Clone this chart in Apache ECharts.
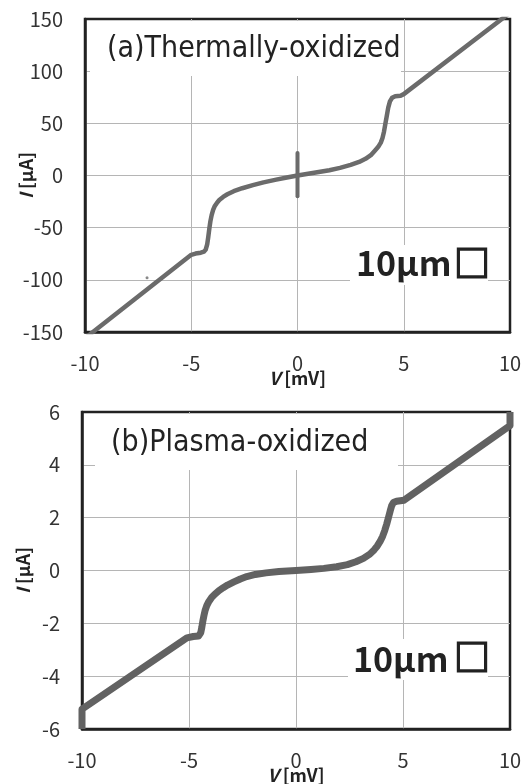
<!DOCTYPE html>
<html>
<head>
<meta charset="utf-8">
<script src="https://cdn.jsdelivr.net/npm/echarts@6/dist/echarts.min.js"></script>
<style>
html,body{margin:0;padding:0;background:#fff;}
#chart{width:529px;height:784px;}
</style>
</head>
<body>
<div id="chart"></div>
<script>
// ---------- Data ----------
// Panel (a): Thermally-oxidized, V [mV] vs I [μA]
const curveA = [
  [-10,-156],[-5.0,-76],[-4.8,-74.8],[-4.55,-74],[-4.4,-73],[-4.32,-71],[-4.25,-66],
  [-4.2,-59],[-4.15,-51],[-4.1,-44],[-4.04,-38],[-3.97,-33],[-3.9,-29.5],[-3.8,-26.5],
  [-3.68,-23.5],[-3.5,-20.5],[-3.3,-18],[-3.0,-15],[-2.6,-12.2],[-2.1,-9.3],[-1.6,-6.6],
  [-1.0,-4],[-0.5,-1.9],[0,0],[0.5,1.6],[1.0,3.3],[1.5,5.1],[2.0,7.3],[2.5,10.2],
  [2.9,13],[3.2,16],[3.45,19.5],[3.65,24],[3.8,27.5],[3.92,31.5],[4.0,36],[4.07,42],
  [4.13,49],[4.2,57],[4.27,65],[4.35,71],[4.45,74.5],[4.6,76],[4.85,76.5],[5.0,78],[10,156]
];
const spikeA = [[0,-20],[0,21.5]];
const strayA = [[-7.08,-98]];
// Panel (b): Plasma-oxidized
const curveB = [
  [-10,-6],[-10,-5.25],[-5.1,-2.55],[-4.8,-2.5],[-4.55,-2.48],[-4.45,-2.35],[-4.4,-2.15],
  [-4.35,-1.9],[-4.3,-1.7],[-4.25,-1.52],[-4.17,-1.33],[-4.07,-1.17],[-3.95,-1.03],
  [-3.8,-0.9],[-3.6,-0.76],[-3.4,-0.65],[-3.2,-0.55],[-2.9,-0.43],[-2.6,-0.32],[-2.3,-0.23],
  [-1.9,-0.15],[-1.4,-0.09],[-0.8,-0.04],[0,0],[0.7,0.04],[1.3,0.08],[1.9,0.14],[2.4,0.22],
  [2.8,0.33],[3.15,0.46],[3.45,0.62],[3.65,0.78],[3.8,0.93],[3.93,1.1],[4.05,1.3],
  [4.15,1.52],[4.24,1.76],[4.32,2.0],[4.4,2.25],[4.47,2.45],[4.55,2.57],[4.7,2.62],
  [5.05,2.66],[10,5.48],[10,6]
];
// Axes
const xRange = [-10, 10], xStep = 5;
const yRangeA = [-150, 150], yStepA = 50;
const yRangeB = [-6, 6], yStepB = 2;
const titleA = '(a)Thermally-oxidized';
const titleB = '(b)Plasma-oxidized';
const sizeText = '10μm';
const sizeBox = '□';
const xName = '{i|V} [mV]';
const yName = '{i|I} [μA]';

// ---------- Chart ----------
const chart = echarts.init(document.getElementById('chart'), null, {renderer:'canvas'});
const labelFont = {fontFamily:'Noto Sans CJK JP', fontSize:20, color:'#333'};
const nameStyle = {fontFamily:'Noto Sans CJK JP', fontSize:18, fontWeight:'bold', color:'#222',
  rich:{i:{fontFamily:'Noto Sans CJK JP', fontSize:18, fontWeight:'bold', fontStyle:'italic', color:'#222'}}};
const split = {show:true, showMinLine:false, showMaxLine:false, lineStyle:{color:'#b5b5b5', width:1}};
const edge = {show:true, onZero:false, lineStyle:{color:'#222', width:2.5}};
function xAxis(gi){
  return {type:'value', gridIndex:gi, min:xRange[0], max:xRange[1], interval:xStep,
    name:xName, nameLocation:'middle', nameGap:37, nameMoveOverlap:false, nameTextStyle:nameStyle,
    axisLine:edge, axisTick:{show:false},
    axisLabel:Object.assign({margin:21}, labelFont), splitLine:split};
}
function yAxis(gi, r, s){
  return {type:'value', gridIndex:gi, min:r[0], max:r[1], interval:s,
    name:yName, nameLocation:'middle', nameGap:50, nameMoveOverlap:false, nameTextStyle:nameStyle,
    axisLine:edge, axisTick:{show:false},
    axisLabel:Object.assign({margin:22}, labelFont), splitLine:split};
}
const titleFont = "'Liberation Sans Narrow','DejaVu Sans Condensed','Noto Sans',sans-serif";
const gridBase = {show:true, borderColor:'#222', borderWidth:2.5, backgroundColor:'#fff',
  containLabel:false, outerBoundsMode:'none'};
const option = {
  backgroundColor:'#fff',
  animation:false,
  grid:[
    Object.assign({left:85, right:19, top:19, height:313}, gridBase),
    Object.assign({left:82, right:19, top:412, height:317}, gridBase)
  ],
  xAxis:[xAxis(0), xAxis(1)],
  yAxis:[yAxis(0, yRangeA, yStepA), yAxis(1, yRangeB, yStepB)],
  series:[
    {type:'line', xAxisIndex:0, yAxisIndex:0, data:curveA, showSymbol:false, smooth:false,
      clip:true, lineStyle:{color:'#6b6b6b', width:4.5, join:'round', cap:'round'}},
    {type:'line', xAxisIndex:0, yAxisIndex:0, data:spikeA, showSymbol:false, clip:true,
      lineStyle:{color:'#6b6b6b', width:4, cap:'round'}},
    {type:'scatter', xAxisIndex:0, yAxisIndex:0, data:strayA, symbolSize:3, itemStyle:{color:'#6b6b6b'}},
    {type:'line', xAxisIndex:1, yAxisIndex:1, data:curveB, showSymbol:false, smooth:false,
      clip:false, lineStyle:{color:'#626262', width:7, join:'round'}}
  ],
  graphic:[
    {type:'rect', z:10, shape:{x:90, y:21, width:311, height:55}, style:{fill:'#fff'}},
    {type:'text', z:11, x:107, y:49, style:{text:titleA, fontFamily:titleFont, fontSize:30, fill:'#222', verticalAlign:'middle', align:'left'}},
    {type:'rect', z:10, shape:{x:350, y:245, width:138, height:40}, style:{fill:'#fff'}},
    {type:'text', z:11, x:356, y:263, style:{text:sizeText, fontFamily:'Noto Sans CJK JP', fontWeight:'bold', fontSize:34, fill:'#222', verticalAlign:'middle', align:'left'}},
    {type:'text', z:11, x:472, y:263, style:{text:sizeBox, fontFamily:'Noto Sans CJK JP', fontWeight:'bold', fontSize:36, fill:'#222', stroke:'#222', lineWidth:1.6, verticalAlign:'middle', align:'center'}},
    {type:'rect', z:10, shape:{x:95, y:414, width:303, height:56}, style:{fill:'#fff'}},
    {type:'text', z:11, x:111, y:443, style:{text:titleB, fontFamily:titleFont, fontSize:30, fill:'#222', verticalAlign:'middle', align:'left'}},
    {type:'rect', z:10, shape:{x:348, y:639, width:140, height:41}, style:{fill:'#fff'}},
    {type:'text', z:11, x:353, y:659, style:{text:sizeText, fontFamily:'Noto Sans CJK JP', fontWeight:'bold', fontSize:34, fill:'#222', verticalAlign:'middle', align:'left'}},
    {type:'text', z:11, x:472, y:657, style:{text:sizeBox, fontFamily:'Noto Sans CJK JP', fontWeight:'bold', fontSize:36, fill:'#222', stroke:'#222', lineWidth:1.6, verticalAlign:'middle', align:'center'}}
  ]
};
chart.setOption(option);
</script>
</body>
</html>
